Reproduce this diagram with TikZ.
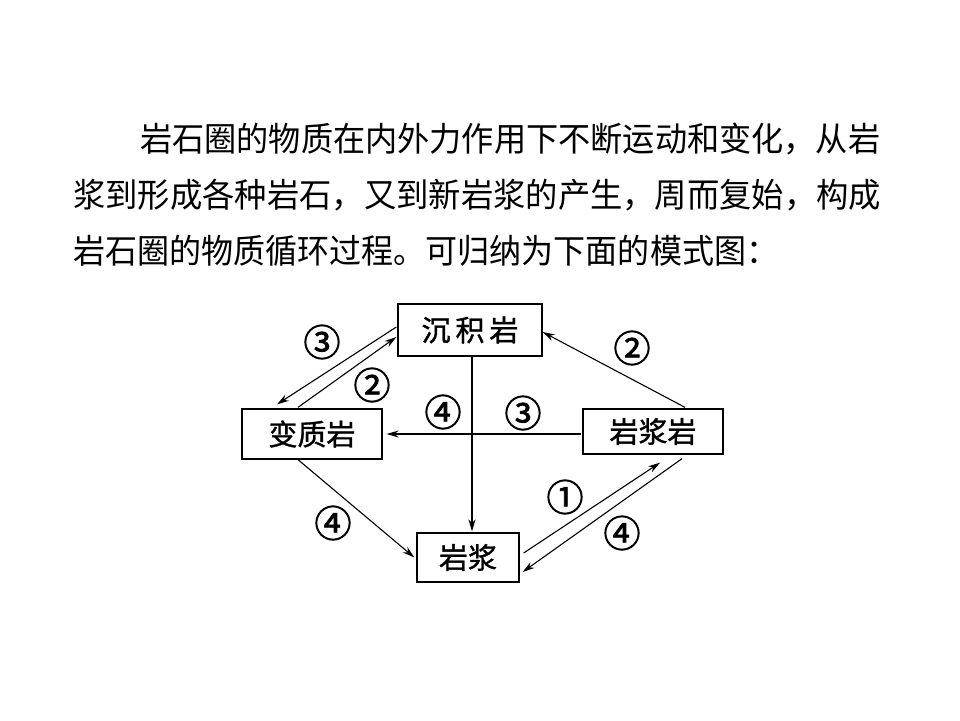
\documentclass[tikz,border=0pt]{standalone}
\usepackage{fontspec}
\setmainfont{Noto Sans CJK SC}
\newfontfamily\cjk{Noto Sans CJK SC}
\newfontfamily\cjkbold[FakeBold=1.2]{Noto Sans CJK SC}
\newfontfamily\numfont[FakeBold=2]{Noto Sans CJK SC}
\usetikzlibrary{calc,arrows.meta}
\begin{document}
\begin{tikzpicture}[x=1pt,y=-1pt,
  bodytext/.style={anchor=west,inner sep=0pt,font=\cjk\fontsize{33.6}{40}\selectfont},
  rockbox/.style={draw,line width=1.3pt,inner sep=0pt,font=\cjkbold\fontsize{29}{32}\selectfont},
  flow/.style={line width=1.1pt,-{Stealth[length=12pt,width=7pt]}},
  num/.style={inner sep=0pt,font=\numfont\fontsize{37}{40}\selectfont}]
\useasboundingbox (0,0) rectangle (960,720);
\fill[white] (0,0) rectangle (960,720);
% paragraph
\node[bodytext] (l1) at (140,139) {\resizebox{740pt}{\height}{岩石圈的物质在内外力作用下不断运动和变化，从岩}};
\node[bodytext] (l2) at (73,195) {\resizebox{808pt}{\height}{浆到形成各种岩石，又到新岩浆的产生，周而复始，构成}};
\node[bodytext] (l3) at (73,251) {\resizebox{705pt}{\height}{岩石圈的物质循环过程。可归纳为下面的模式图：}};
% boxes
\node[rockbox,minimum width=144pt,minimum height=52pt] (sed) at (470,330) {沉\hspace{5pt}积\hspace{5pt}岩};
\node[rockbox,minimum width=140pt,minimum height=50pt] (meta) at (312,434) {变质岩};
\node[rockbox,minimum width=140pt,minimum height=45pt] (ign) at (653,431.5) {岩浆岩};
\node[rockbox,minimum width=102pt,minimum height=49pt] (mag) at (468,557.5) {岩浆};
% connectors
\draw[flow] ($(sed.west)+(-1,-3)$) -- ($(meta.north)+(-35,-4)$);
\draw[flow] ($(meta.north)+(-14,-1)$) -- ($(sed.west)+(-1,7)$);
\draw[flow] ($(ign.north)+(32,-1)$) -- ($(sed.east)+(0,2)$);
\draw[flow] ($(ign.west)+(-1,2.5)$) -- ($(meta.east)+(4,0)$);
\draw[flow] ($(sed.south)+(2,0)$) -- ($(mag.north)+(4,-1)$);
\draw[flow] ($(meta.south)+(-14,0)$) -- ($(mag.west)+(-2,0)$);
\draw[flow] ($(mag.east)+(4,-4.5)$) -- ($(ign.south)+(7,8)$);
\draw[flow] ($(ign.south)+(29,4)$) -- ($(mag.east)+(3,14.5)$);
% labels
\node[num] (n1) at (322,342) {③};
\node[num] (n2) at (372,385) {②};
\node[num] (n3) at (632,348) {②};
\node[num] (n4) at (443,412) {④};
\node[num] (n5) at (523,413) {③};
\node[num] (n6) at (565,497) {①};
\node[num] (n7) at (622,533) {④};
\node[num] (n8) at (333,523) {④};
\end{tikzpicture}
\end{document}
